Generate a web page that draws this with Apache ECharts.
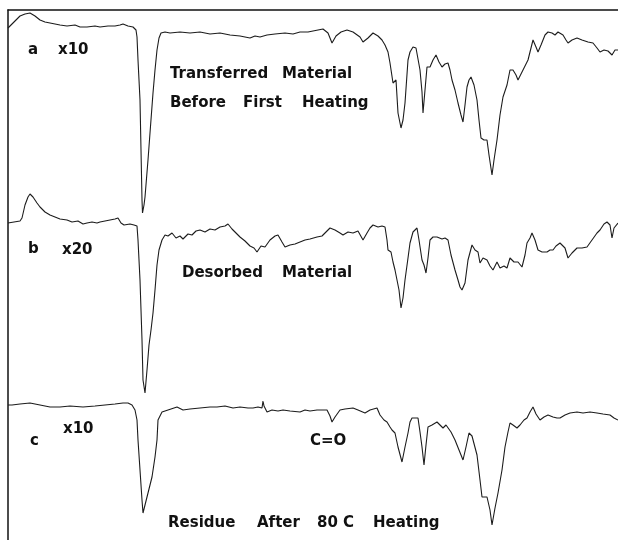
<!DOCTYPE html>
<html>
<head>
<meta charset="utf-8">
<style>
  html, body { margin: 0; padding: 0; background: #fff; }
  #chart { width: 618px; height: 540px; }
</style>
<script src="https://cdn.jsdelivr.net/npm/echarts@6/dist/echarts.min.js"></script>
</head>
<body>
<div id="chart"></div>
<script>
// spectra, [position, trace level] (level grows downward)
var specA = [[8,28],[14,22],[20,16],[25,14],[30,13],[35,16],[40,20],[45,22],[50,23],[55,24],[60,25],[67,26],[75,25],[80,27],[87,27],[95,26],[100,27],[108,26],[115,26],[120,25],[123,24],[128,26],[133,27],[136,30],[137,37],[138,60],[140,100],[141,150],[142,200],[142.5,213],[144,205],[145,197],[148,160],[150,133],[153,93],[155,70],[157,50],[159,38],[161,33],[165,32],[170,33],[180,32],[190,33],[200,32],[210,34],[220,33],[230,35],[240,36],[250,38],[255,36],[260,37],[267,35],[275,34],[285,33],[293,34],[300,32],[308,32],[318,30],[323,29],[328,33],[332,43],[336,36],[341,32],[347,30],[353,32],[360,37],[363,42],[368,38],[373,33],[378,36],[382,40],[385,45],[388,52],[390,63],[393,83],[396,80],[398,113],[401,128],[403,120],[405,103],[408,60],[410,52],[413,47],[416,48],[418,50],[420,70],[422,92],[423,113],[425,90],[427,67],[430,67],[433,60],[436,55],[439,62],[442,67],[445,64],[448,63],[450,70],[452,80],[455,90],[458,103],[461,115],[463,122],[465,105],[467,87],[469,80],[471,77],[474,85],[477,100],[479,120],[481,138],[484,140],[487,140],[489,155],[492,175],[494,160],[497,140],[500,115],[503,97],[507,85],[510,70],[513,70],[516,75],[518,80],[521,74],[523,70],[526,64],[528,60],[531,48],[533,40],[536,47],[538,52],[541,45],[545,35],[548,32],[552,33],[555,35],[558,32],[560,30],[563,35],[566,40],[568,43],[572,40],[577,38],[582,40],[588,42],[593,43],[597,48],[600,52],[604,50],[608,51],[612,55],[615,50],[618,50]];

var specB = [[8,223],[14,222],[20,221],[22,218],[25,205],[28,197],[30,194],[33,197],[37,203],[40,207],[45,212],[50,215],[55,217],[60,219],[67,220],[72,222],[78,221],[83,224],[87,223],[92,222],[97,223],[100,222],[105,221],[110,220],[115,219],[118,218],[121,223],[124,225],[130,224],[134,225],[137,226],[138,240],[140,280],[142,340],[143,380],[145,393],[147,370],[149,345],[151,330],[153,313],[155,290],[157,265],[159,250],[162,240],[165,235],[168,236],[172,233],[176,238],[180,236],[183,239],[188,234],[192,235],[196,231],[200,230],[205,232],[210,229],[215,230],[220,227],[225,226],[228,224],[232,229],[236,233],[240,237],[245,241],[250,246],[254,248],[257,252],[261,246],[265,247],[270,240],[275,236],[278,235],[282,242],[285,247],[290,245],[295,244],[300,242],[305,240],[310,239],[317,237],[322,236],[326,232],[330,228],[335,230],[340,233],[343,235],[348,232],[353,233],[358,231],[360,230],[363,240],[367,233],[370,228],[373,225],[378,227],[382,226],[385,227],[387,240],[388,250],[391,252],[393,262],[395,270],[397,268],[399,290],[401,308],[403,298],[405,280],[408,258],[410,243],[413,232],[417,228],[419,240],[422,260],[424,265],[426,273],[428,258],[430,240],[433,237],[437,237],[442,239],[445,238],[448,240],[451,255],[455,270],[458,280],[460,287],[462,290],[465,283],[468,260],[472,245],[475,250],[478,252],[480,263],[483,258],[487,260],[490,266],[493,270],[497,262],[500,268],[504,266],[507,268],[510,258],[514,262],[518,262],[522,267],[525,255],[527,243],[530,238],[532,233],[535,240],[538,250],[542,252],[547,252],[550,250],[553,250],[556,246],[560,243],[562,242],[565,248],[568,258],[572,253],[577,248],[582,248],[587,247],[592,240],[597,233],[600,230],[604,224],[607,222],[610,225],[612,238],[614,228],[618,223]];

var specC = [[8,405],[12,405],[20,404],[30,403],[40,405],[50,407],[60,407],[70,406],[83,407],[95,406],[105,405],[115,404],[123,403],[128,403],[132,405],[135,410],[137,420],[138,440],[140,470],[142,500],[143,513],[145,505],[147,497],[150,485],[152,477],[155,457],[157,440],[158,420],[162,412],[168,410],[177,407],[183,410],[190,409],[200,408],[210,407],[217,407],[225,406],[233,408],[240,407],[248,408],[253,408],[258,407],[262,408],[263,401],[264,406],[267,412],[272,410],[278,411],[283,410],[290,411],[300,412],[305,410],[310,411],[317,410],[322,410],[327,410],[330,416],[332,422],[335,417],[340,410],[345,409],[353,408],[358,410],[365,413],[370,410],[377,408],[380,415],[384,420],[387,422],[390,427],[392,430],[395,433],[398,447],[402,462],[405,447],[408,433],[410,422],[412,418],[415,418],[418,418],[420,432],[422,447],[424,465],[426,445],[428,427],[432,425],[437,422],[440,425],[443,428],[446,425],[448,425],[451,432],[455,440],[459,450],[463,460],[466,447],[469,433],[472,436],[474,437],[477,455],[480,480],[482,497],[484,495],[487,497],[490,510],[492,525],[495,508],[498,493],[502,470],[505,447],[508,432],[510,423],[513,425],[517,428],[520,425],[524,420],[527,418],[530,412],[533,407],[536,414],[540,420],[544,417],[548,415],[553,417],[557,418],[560,418],[565,415],[570,413],[577,412],[583,413],[590,412],[597,413],[603,414],[610,415],[614,418],[618,420]];

// annotation words
var labels = [
    ['a', 28, 50], ['x10', 58, 50],
    ['Transferred', 170, 74], ['Material', 282, 74],
    ['Before', 170, 103], ['First', 243, 103], ['Heating', 302, 103],
    ['b', 28, 249], ['x20', 62, 250],
    ['Desorbed', 182, 273], ['Material', 282, 273],
    ['c', 30, 441], ['x10', 63, 429], ['C=O', 310, 441],
    ['Residue', 168, 523], ['After', 257, 523], ['80 C', 317, 523], ['Heating', 373, 523]
];

var chart = echarts.init(document.getElementById('chart'));

var lineSeries = function(name, data){
    return {
        name: name,
        type: 'line',
        data: data,
        showSymbol: false,
        smooth: false,
        animation: false,
        lineStyle: { color: '#1c1c1c', width: 1.1 }
    };
};

chart.setOption({
    backgroundColor: '#fff',
    animation: false,
    grid: { left: 8, top: 10, right: 0, bottom: 0 },
    xAxis: {
        type: 'value',
        position: 'top',
        min: 8,
        max: 618,
        axisLine: { show: true, lineStyle: { color: '#111', width: 1.5 } },
        axisTick: { show: false },
        axisLabel: { show: false },
        splitLine: { show: false }
    },
    yAxis: {
        type: 'value',
        inverse: true,
        min: 10,
        max: 540,
        axisLine: { show: true, lineStyle: { color: '#111', width: 1.5 } },
        axisTick: { show: false },
        axisLabel: { show: false },
        splitLine: { show: false }
    },
    graphic: labels.map(function(l){
        return {
            type: 'text',
            x: l[1],
            y: l[2],
            style: {
                text: l[0],
                fill: '#111',
                font: 'bold 15px "DejaVu Sans"',
                align: 'left',
                verticalAlign: 'middle'
            }
        };
    }),
    series: [
        lineSeries('a', specA),
        lineSeries('b', specB),
        lineSeries('c', specC)
    ]
});
</script>
</body>
</html>
